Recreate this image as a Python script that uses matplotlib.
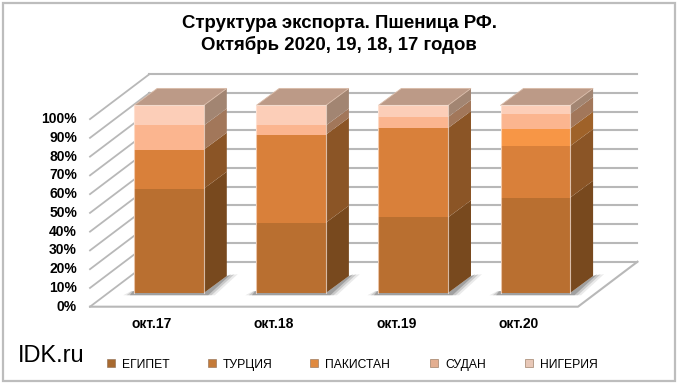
import matplotlib.pyplot as plt
from matplotlib.patches import Polygon, Rectangle

plt.rcParams["font.family"] = ["Liberation Sans", "DejaVu Sans"]

W, H = 680, 385

categories = ["окт.17", "окт.18", "окт.19", "окт.20"]
series_names = ["ЕГИПЕТ", "ТУРЦИЯ", "ПАКИСТАН", "СУДАН", "НИГЕРИЯ"]
egypt = [55.6, 37.5, 40.3, 50.8]
turkey = [20.8, 46.9, 47.6, 27.5]
pakistan = [0.0, 0.0, 0.0, 9.3]
sudan = [12.9, 4.9, 5.9, 7.8]
nigeria = [10.7, 10.7, 6.2, 4.6]
series = [egypt, turkey, pakistan, sudan, nigeria]
y_ticks = [0, 10, 20, 30, 40, 50, 60, 70, 80, 90, 100]

front_colors = ["#B96F30", "#D9803A", "#F79646", "#FBB58F", "#FCCEB8"]
side_colors = ["#78491E", "#8B5526", "#9F6229", "#A2775A", "#A28572"]
top_color = "#BC9A87"
grid_color = "#B8B8B8"

# pixel geometry of the front plane
PX_X0, PX_STEP = 169.0, 122.1
PX_Y0, PX_PCT = 293.0, 1.876
BAR_W = 0.57
DX, DY = 23 / PX_STEP, 17 / PX_PCT  # bar depth in data units
FLOOR_X0, FLOOR_X1 = (90 - PX_X0) / PX_STEP, (578 - PX_X0) / PX_STEP
FLOOR_Y = (PX_Y0 - 306.7) / PX_PCT
WALL_DX, WALL_DY = 59.5 / PX_STEP, 45 / PX_PCT

fig = plt.figure(figsize=(W / 100, H / 100), dpi=100, facecolor="white")
ax = fig.add_axes([0, 0, 1, 1])
ax.set_xlim((0 - PX_X0) / PX_STEP, (W - PX_X0) / PX_STEP)
ax.set_ylim((PX_Y0 - H) / PX_PCT, PX_Y0 / PX_PCT)
ax.axis("off")

# grid on the left wall and back wall
for t in y_ticks:
    y = FLOOR_Y + t
    ax.plot([FLOOR_X0, FLOOR_X0 + WALL_DX], [y, y + WALL_DY],
            color=grid_color, lw=1.3, zorder=1)
    ax.plot([FLOOR_X0 + WALL_DX, FLOOR_X1 + WALL_DX], [y + WALL_DY, y + WALL_DY],
            color=grid_color, lw=1.5, zorder=1)
    ax.text(FLOOR_X0 - 13 / PX_STEP, y, f"{t}%", ha="right", va="center",
            fontsize=10, fontweight="bold", color="black")

# floor
ax.plot([FLOOR_X0, FLOOR_X1, FLOOR_X1 + WALL_DX],
        [FLOOR_Y, FLOOR_Y, FLOOR_Y + WALL_DY], color=grid_color, lw=1.5, zorder=1)

for i, name in enumerate(categories):
    left, right = i - BAR_W / 2, i + BAR_W / 2

    # shadow on the floor, darker close to the bar
    for grow, alpha in [(1.0, 0.12), (0.7, 0.22), (0.4, 0.35)]:
        sx = 11 * grow / PX_STEP
        ax.add_patch(Polygon(
            [(left - sx, -1.2), (right + sx, -1.2), (right + DX + sx, DY + 1),
             (right + DX, DY), (right, 0), (left - sx * 0.3, 1)],
            closed=True, fc="#555555", ec="none", alpha=alpha, zorder=2))

    bottom = 0.0
    for k, vals in enumerate(series):
        v = vals[i]
        if v == 0:
            continue
        ax.bar(i, v, BAR_W, bottom=bottom, color=front_colors[k], zorder=4)
        ax.add_patch(Polygon(
            [(right, bottom), (right + DX, bottom + DY),
             (right + DX, bottom + v + DY), (right, bottom + v)],
            closed=True, fc=side_colors[k], ec="none", zorder=3))
        bottom += v

    # top face with a paler rim
    ax.add_patch(Polygon(
        [(left, bottom), (right, bottom), (right + DX, bottom + DY),
         (left + DX, bottom + DY)],
        closed=True, fc=top_color, ec="#D9BBA8", lw=0.6, zorder=5))
    ax.plot([left, left, right, right], [0, bottom, bottom, 0],
            color="#FFE9DC", lw=0.8, alpha=0.7, zorder=6)

    ax.text(i - 17 / PX_STEP, (PX_Y0 - 327.5) / PX_PCT, name, ha="center",
            va="baseline", fontsize=10, fontweight="bold", color="black")

fig.text(339 / W, 1 - 28.5 / H, "Структура экспорта. Пшеница РФ.", ha="center",
         va="baseline", fontsize=13.4, fontweight="bold", color="black")
fig.text(339 / W, 1 - 50.5 / H, "Октябрь 2020, 19, 18, 17 годов", ha="center",
         va="baseline", fontsize=13.4, fontweight="bold", color="black")
fig.text(18 / W, 1 - 362 / H, "IDK.ru", ha="left", va="baseline", fontsize=17,
         color="black")

# legend
legend_px = [111, 212, 314, 434, 529]
legend_colors = ["#A86A30", "#C47A38", "#E08A40", "#E3AE90", "#E8C8B8"]
for px, label, c in zip(legend_px, series_names, legend_colors):
    fig.add_artist(Rectangle(((px - 4) / W, 1 - 367 / H), 8 / W, 8 / H,
                             transform=fig.transFigure, fc=c, ec="#8C6B50", lw=0.4))
    fig.text((px + 11) / W, 1 - 368 / H, label, ha="left", va="baseline",
             fontsize=8.7, color="black")

# outer frame
fig.add_artist(Rectangle((3 / W, 1 - 380.5 / H), 671.5 / W, 377.5 / H,
                         transform=fig.transFigure, fc="none", ec="#BDBDBD", lw=1.6))

fig.savefig("out.png", dpi=100)
